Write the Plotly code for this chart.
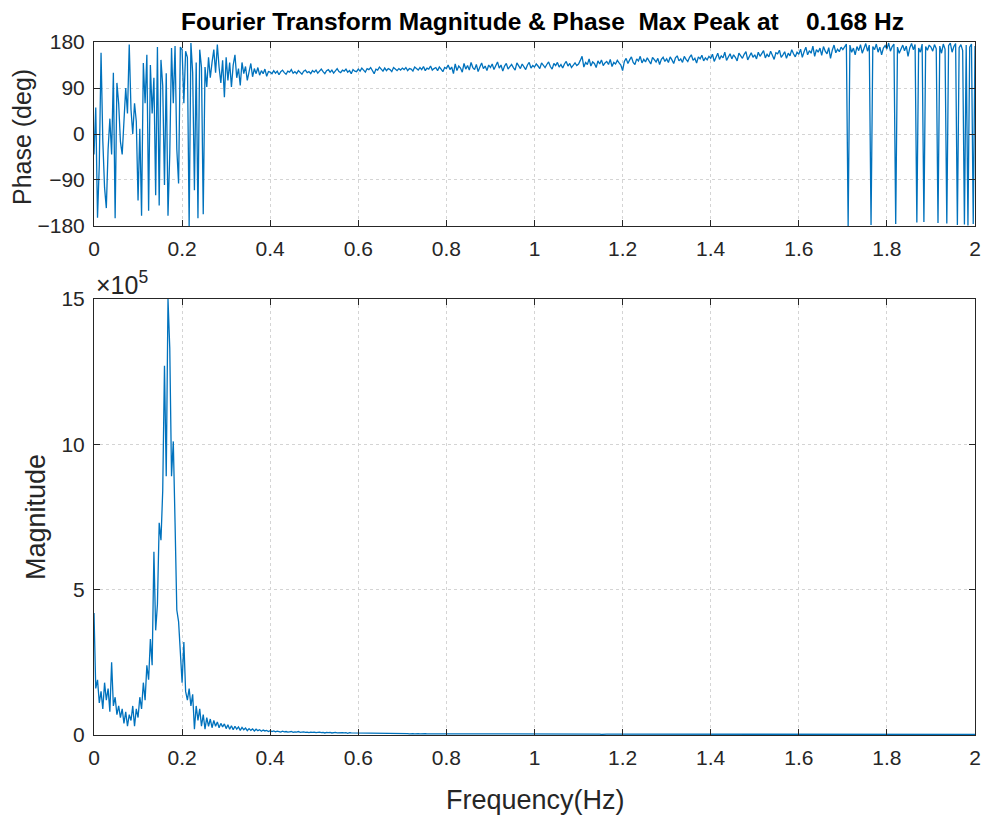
import numpy as np
import plotly.graph_objects as go

# Frequency bins (Hz), 0.004 Hz resolution from 0 to 2 Hz
freq_step = 0.004
freq_hz = np.round(np.arange(501) * freq_step, 3)

# Phase of the transform (deg), one row per 0.1 Hz
phase_deg = [
    -40, 52, -164, -60, 159, -13, -105, -145, -30, 30, -40, 120, -165, 100, 60, -15, -40, 20, 90, 40, 175, 48, 0, 60, 25,
    -130, 10, -160, 139, 60, 155, -150, 135, 40, 110, -120, 170, -140, 145, 95, -100, 119, -160, -38, 168, 60, 172, -30, -97, 170,
    165, 60, 162, 150, -180, 178, 120, -110, 140, -165, 165, 130, -157, 131, 92, 150, 110, 140, 165, 120, 175, 130, 100, 144, 72,
    150, 105, 140, 92, 135, 155, 110, 128, 95, 140, 118, 132, 105, 126, 138, 112, 128, 118, 130, 115, 124, 118, 127, 113, 122,
    121, 118, 124, 119, 123, 116, 122, 125, 120, 117, 123, 121, 126, 119, 122, 118, 124, 120, 117, 123, 125, 120, 122, 118, 124,
    121, 125, 119, 123, 127, 122, 118, 124, 126, 121, 125, 119, 123, 128, 122, 120, 125, 123, 127, 121, 124, 118, 126, 123, 122,
    127, 123, 129, 125, 121, 128, 126, 130, 124, 118, 127, 125, 131, 126, 123, 129, 124, 128, 126, 122, 130, 127, 124, 128, 125,
    129, 126, 130, 124, 128, 127, 123, 131, 128, 125, 130, 126, 132, 124, 129, 127, 133, 125, 128, 130, 124, 131, 127, 122, 130,
    128, 135, 126, 131, 118, 137, 124, 133, 129, 121, 138, 127, 134, 125, 140, 130, 126, 136, 122, 131, 139, 128, 133, 124, 135,
    130, 137, 126, 134, 141, 129, 135, 123, 133, 138, 127, 132, 136, 130, 125, 139, 133, 128, 137, 131, 126, 135, 140, 129, 134,
    131, 137, 133, 128, 139, 135, 130, 136, 141, 132, 127, 138, 134, 140, 131, 136, 129, 137, 142, 133, 138, 130, 135, 139, 134,
    137, 144, 152, 131, 140, 136, 147, 133, 141, 138, 130, 143, 137, 145, 134, 139, 142, 136, 146, 132, 140, 137, 144, 139, 135,
    124, 142, 148, 138, 145, 151, 140, 136, 147, 143, 152, 139, 146, 141, 149, 144, 137, 150, 145, 141, 148, 136, 146, 150, 142,
    147, 140, 151, 145, 138, 149, 153, 143, 147, 140, 152, 146, 142, 150, 155, 144, 148, 139, 151, 147, 154, 143, 149, 145, 152,
    148, 156, 142, 151, 158, 146, 153, 149, 160, 144, 152, 157, 147, 155, 150, 143, 158, 153, 148, 156, 161, 145, 152, 159, 150,
    155, 147, 160, 152, 158, 163, 149, 156, 151, 162, 154, 146, 159, 157, 164, 150, 155, 161, 148, 158, 153, 165, 157, 151, 160,
    156, 166, 150, 161, 170, 155, 163, 158, 172, 152, 165, 160, 168, 154, 171, 162, 157, 169, 148, 164, 174, 159, 166, 161, 170,
    165, 172, 176, -180, 174, 160, 168, 155, 171, 163, 175, 158, 169, 177, 162, 174, -178, 171, 165, 176, 160, 170, 155, 168, 173,
    166, 178, 162, 171, 176, -176, 170, 158, 167, 174, 163, 172, 152, 169, 177, 165, 175, -173, 168, 160, 176, -172, 171, 164, 174,
    170, 162, 175, 167, -174, 172, 158, 176, 166, -175, 173, 178, 160, 171, 177, -178, 169, 175, 163, -177, 174, -179, 170, 176, -176,
    172,
]

# Magnitude of the transform, in units of 1e5
magnitude_e5 = [
    4.2, 1.6, 1.9, 1.1, 1.5, 0.9, 1.8, 1.2, 1.6, 0.8, 2.5, 1.0, 1.3, 0.7, 1.0, 0.6, 0.9, 0.4, 0.8, 0.3, 0.7, 0.5, 1.0, 0.3, 0.9,
    0.6, 1.3, 0.9, 1.8, 1.2, 2.4, 1.9, 3.3, 2.4, 6.3, 3.6, 4.5, 7.3, 6.7, 8.4, 12.7, 8.9, 15.0, 13.3, 8.9, 10.1, 7.3, 4.3, 3.9, 2.7,
    1.8, 3.2, 1.5, 1.2, 1.6, 1.0, 1.4, 0.2, 1.0, 0.5, 0.9, 0.3, 0.7, 0.2, 0.6, 0.3, 0.55, 0.25, 0.5, 0.3, 0.45, 0.25, 0.4, 0.28, 0.38,
    0.22, 0.35, 0.2, 0.32, 0.18, 0.3, 0.2, 0.28, 0.16, 0.26, 0.18, 0.24, 0.15, 0.22, 0.16, 0.21, 0.14, 0.2, 0.15, 0.18, 0.13, 0.17, 0.14, 0.16, 0.12,
    0.15, 0.12, 0.14, 0.11, 0.13, 0.12, 0.1, 0.13, 0.11, 0.12, 0.1, 0.11, 0.12, 0.09, 0.11, 0.1, 0.12, 0.09, 0.1, 0.11, 0.09, 0.1, 0.08, 0.1, 0.09,
    0.1, 0.08, 0.09, 0.1, 0.08, 0.09, 0.07, 0.09, 0.08, 0.09, 0.07, 0.08, 0.09, 0.07, 0.08, 0.07, 0.08, 0.07, 0.08, 0.06, 0.08, 0.07, 0.07, 0.06, 0.07,
    0.07, 0.06, 0.07, 0.06, 0.07, 0.06, 0.07, 0.05, 0.06, 0.07, 0.06, 0.06, 0.05, 0.06, 0.06, 0.05, 0.06, 0.05, 0.06, 0.05, 0.06, 0.05, 0.05, 0.06, 0.05,
    0.05, 0.06, 0.05, 0.05, 0.04, 0.05, 0.05, 0.04, 0.05, 0.05, 0.04, 0.05, 0.04, 0.05, 0.04, 0.05, 0.04, 0.04, 0.05, 0.04, 0.04, 0.05, 0.04, 0.04, 0.04,
    0.04, 0.05, 0.04, 0.04, 0.03, 0.04, 0.04, 0.04, 0.03, 0.04, 0.04, 0.03, 0.04, 0.04, 0.03, 0.04, 0.03, 0.04, 0.03, 0.04, 0.03, 0.03, 0.04, 0.03, 0.03,
    0.04, 0.03, 0.03, 0.04, 0.03, 0.03, 0.04, 0.03, 0.03, 0.03, 0.04, 0.03, 0.03, 0.03, 0.04, 0.03, 0.03, 0.03, 0.03, 0.04, 0.03, 0.03, 0.03, 0.03, 0.03,
    0.03, 0.04, 0.03, 0.03, 0.03, 0.03, 0.03, 0.04, 0.03, 0.03, 0.03, 0.03, 0.03, 0.03, 0.04, 0.03, 0.03, 0.03, 0.03, 0.03, 0.03, 0.03, 0.04, 0.03, 0.03,
    0.03, 0.03, 0.03, 0.03, 0.03, 0.04, 0.03, 0.03, 0.03, 0.03, 0.03, 0.03, 0.03, 0.02, 0.03, 0.03, 0.03, 0.03, 0.03, 0.03, 0.03, 0.02, 0.03, 0.03, 0.03,
    0.03, 0.03, 0.02, 0.03, 0.03, 0.03, 0.03, 0.03, 0.02, 0.03, 0.03, 0.03, 0.02, 0.03, 0.03, 0.03, 0.03, 0.02, 0.03, 0.03, 0.03, 0.02, 0.03, 0.03, 0.02,
    0.03, 0.03, 0.02, 0.03, 0.03, 0.02, 0.03, 0.03, 0.02, 0.03, 0.02, 0.03, 0.03, 0.02, 0.03, 0.03, 0.02, 0.03, 0.02, 0.03, 0.03, 0.02, 0.03, 0.02, 0.03,
    0.02, 0.03, 0.03, 0.02, 0.03, 0.02, 0.03, 0.02, 0.03, 0.02, 0.03, 0.02, 0.02, 0.03, 0.02, 0.03, 0.02, 0.03, 0.02, 0.02, 0.03, 0.02, 0.03, 0.02, 0.02,
    0.03, 0.02, 0.02, 0.03, 0.02, 0.02, 0.03, 0.02, 0.02, 0.03, 0.02, 0.02, 0.02, 0.03, 0.02, 0.02, 0.02, 0.03, 0.02, 0.02, 0.02, 0.02, 0.03, 0.02, 0.02,
    0.02, 0.02, 0.03, 0.02, 0.02, 0.02, 0.02, 0.02, 0.03, 0.02, 0.02, 0.02, 0.02, 0.02, 0.02, 0.03, 0.02, 0.02, 0.02, 0.02, 0.02, 0.02, 0.02, 0.03, 0.02,
    0.02, 0.02, 0.02, 0.02, 0.02, 0.02, 0.03, 0.02, 0.02, 0.02, 0.02, 0.02, 0.02, 0.02, 0.02, 0.02, 0.02, 0.03, 0.02, 0.02, 0.02, 0.02, 0.02, 0.02, 0.02,
    0.02, 0.02, 0.02, 0.02, 0.02, 0.02, 0.02, 0.02, 0.02, 0.03, 0.02, 0.02, 0.02, 0.02, 0.02, 0.02, 0.02, 0.02, 0.02, 0.02, 0.02, 0.02, 0.02, 0.02, 0.02,
    0.02, 0.02, 0.02, 0.02, 0.02, 0.02, 0.02, 0.02, 0.02, 0.02, 0.02, 0.02, 0.02, 0.02, 0.02, 0.02, 0.02, 0.02, 0.02, 0.02, 0.02, 0.02, 0.02, 0.02, 0.02,
    0.02,
]

freq_ticks = [0, 0.2, 0.4, 0.6, 0.8, 1, 1.2, 1.4, 1.6, 1.8, 2]
freq_tick_text = ["0", "0.2", "0.4", "0.6", "0.8", "1", "1.2", "1.4", "1.6", "1.8", "2"]
phase_ticks = [-180, -90, 0, 90, 180]
mag_ticks = [0, 5, 10, 15]

peak_hz = freq_hz[int(np.argmax(magnitude_e5))]

LINE_BLUE = "#0072BD"
AXIS_DARK = "#262626"
FONT = "Liberation Sans, Arial, Helvetica, sans-serif"
TICK_SIZE = 21
LABEL_SIZE = 26

common_axis = dict(
    showline=True, linecolor=AXIS_DARK, linewidth=1, mirror="ticks",
    ticks="inside", ticklen=6, tickcolor=AXIS_DARK, tickwidth=1,
    showgrid=True, gridcolor="#d4d4d4", griddash="dot", gridwidth=1,
    zeroline=False, automargin=False, ticklabelstandoff=4,
    tickfont=dict(family=FONT, size=TICK_SIZE, color=AXIS_DARK),
)

fig = go.Figure()
fig.add_trace(go.Scatter(x=freq_hz, y=phase_deg, mode="lines",
                         line=dict(color=LINE_BLUE, width=1.3),
                         xaxis="x", yaxis="y", showlegend=False))
fig.add_trace(go.Scatter(x=freq_hz, y=magnitude_e5, mode="lines",
                         line=dict(color=LINE_BLUE, width=1.3),
                         xaxis="x2", yaxis="y2", showlegend=False))

fig.update_layout(
    width=986, height=816,
    margin=dict(l=94, r=11, t=42, b=81),
    paper_bgcolor="white", plot_bgcolor="white",
    font=dict(family=FONT, color=AXIS_DARK),
    xaxis=dict(common_axis, domain=[0, 1], range=[0, 2], anchor="y",
               tickvals=freq_ticks, ticktext=freq_tick_text),
    yaxis=dict(common_axis, domain=[0.7345, 1], range=[-180, 180], anchor="x",
               tickvals=phase_ticks),
    xaxis2=dict(common_axis, domain=[0, 1], range=[0, 2], anchor="y2",
                tickvals=freq_ticks, ticktext=freq_tick_text),
    yaxis2=dict(common_axis, domain=[0, 0.6292], range=[0, 15], anchor="x2",
                tickvals=mag_ticks),
)

label_font = dict(family=FONT, size=LABEL_SIZE, color=AXIS_DARK)

# Title and axis labels
fig.add_annotation(
    text=f"<b>Fourier Transform Magnitude & Phase  Max Peak at    {peak_hz:.3f} Hz</b>",
    xref="paper", yref="paper", x=0.5096, y=1.0303, xanchor="center", yanchor="middle",
    showarrow=False, font=dict(family=FONT, size=24.5, color="#000000"),
)
fig.add_annotation(text="Phase (deg)", textangle=-90, xref="paper", yref="paper",
                   x=-0.0817, y=0.8629, xanchor="center", yanchor="middle",
                   showarrow=False, font=dict(family=FONT, size=25, color=AXIS_DARK))
fig.add_annotation(text="Magnitude", textangle=-90, xref="paper", yref="paper",
                   x=-0.0658, y=0.3146, xanchor="center", yanchor="middle",
                   showarrow=False, font=dict(family=FONT, size=27, color=AXIS_DARK))
fig.add_annotation(text="Frequency(Hz)", xref="paper", yref="paper",
                   x=0.5006, y=-0.0938, xanchor="center", yanchor="middle",
                   showarrow=False, font=dict(family=FONT, size=27, color=AXIS_DARK))
# Exponent of the magnitude axis
fig.add_annotation(
    text="×10<sup>5</sup>", xref="paper", yref="paper", x=0.0, y=0.652,
    xanchor="left", yanchor="middle", showarrow=False,
    font=dict(family=FONT, size=25, color=AXIS_DARK),
)

fig.write_html("out.html")
